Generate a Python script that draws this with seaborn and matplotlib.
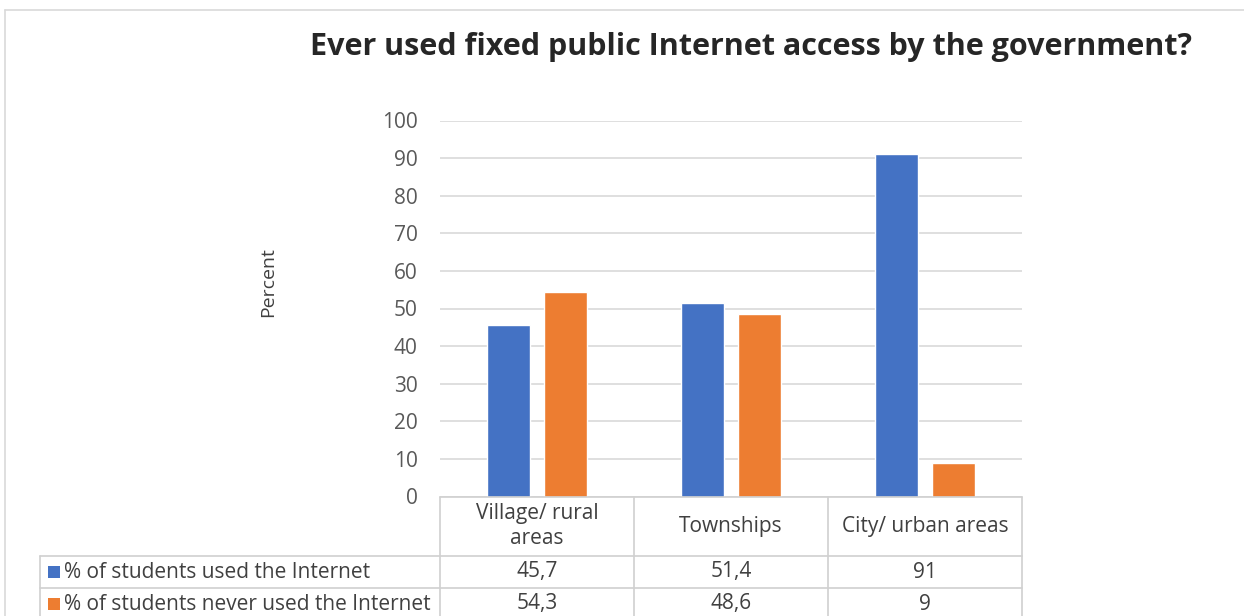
import matplotlib
matplotlib.use("Agg")
import matplotlib.pyplot as plt
from matplotlib.lines import Line2D
from matplotlib.patches import Rectangle
import seaborn as sns
import pandas as pd

# Data
categories = ["Village/ rural\nareas", "Townships", "City/ urban areas"]
series_names = ["% of students used the Internet", "% of students never used the Internet"]
used = [45.7, 51.4, 91]
never_used = [54.3, 48.6, 9]
colors = ["#4472C4", "#ED7D31"]
title = "Ever used fixed public Internet access by the government?"
y_ticks = [0, 10, 20, 30, 40, 50, 60, 70, 80, 90, 100]

df = pd.DataFrame({
    "category": categories * 2,
    "series": [series_names[0]] * 3 + [series_names[1]] * 3,
    "value": used + never_used,
})

sns.set_theme(style="white")
plt.rcParams["font.family"] = ["Open Sans", "DejaVu Sans"]

W, H = 1244, 616
fig = plt.figure(figsize=(W / 100, H / 100), dpi=100)
fig.patch.set_facecolor("white")

def fx(px):
    return px / W

def fy(py):
    return 1 - py / H

# Plot area in pixel terms
x0, x1 = 440, 1022
y_top, y_bot = 120.5, 496.5
ax = fig.add_axes([fx(x0), fy(y_bot), fx(x1) - fx(x0), fy(y_top) - fy(y_bot)])

sns.barplot(data=df, x="category", y="value", hue="series", order=categories,
            hue_order=series_names, palette=colors, width=0.58, gap=0.24,
            saturation=1, ax=ax, legend=False, errorbar=None)

ax.set_ylim(0, 100)
ax.set_xlim(-0.5, 2.5)
ax.set_yticks(y_ticks)
ax.set_yticklabels([str(t) for t in y_ticks], color="#595959", fontsize=15)
ax.tick_params(axis="y", length=0, pad=16)
ax.set_xticks([])
ax.set_xlabel("")
ax.set_ylabel("")
for s in ax.spines.values():
    s.set_visible(False)
ax.grid(axis="y", color="#d9d9d9", linewidth=1.2)
ax.set_axisbelow(True)

fig.text(fx(268), fy(282), "Percent", rotation=90, ha="center", va="center",
         color="#404040", fontsize=14)

fig.text(fx(751), fy(47), title, ha="center", va="center", color="#262626",
         fontsize=22, fontweight="bold")

# Outer chart border
line_c = "#d9d9d9"
fig.add_artist(Line2D([fx(5), fx(W)], [fy(10), fy(10)], color=line_c, lw=1.2))
fig.add_artist(Line2D([fx(5), fx(5)], [fy(10), fy(H)], color=line_c, lw=1.2))

# Data table below the axis
tab_c = "#d0d0d0"
col_edges = [440, 634, 828, 1022]
row_lines = [497, 556, 588]
fig.add_artist(Line2D([fx(440), fx(1022)], [fy(497), fy(497)], color=tab_c, lw=1.2))
for r in row_lines[1:]:
    fig.add_artist(Line2D([fx(40), fx(1022)], [fy(r), fy(r)], color=tab_c, lw=1.2))
for c in col_edges:
    fig.add_artist(Line2D([fx(c), fx(c)], [fy(497), fy(H)], color=tab_c, lw=1.2))
fig.add_artist(Line2D([fx(40), fx(40)], [fy(556), fy(H)], color=tab_c, lw=1.2))

text_c = "#404040"
fs = 15
row_y = [(556 + 588) / 2, (588 + 620) / 2]
trans = matplotlib.transforms.blended_transform_factory(ax.transData, fig.transFigure)
for i, cat in enumerate(categories):
    ax.text(i, fy((497 + 556) / 2), cat, transform=trans, ha="center", va="center",
            color=text_c, fontsize=fs, linespacing=1.25, clip_on=False)

def fmt(v):
    return f"{v:g}".replace(".", ",")

for r, vals in enumerate([used, never_used]):
    for i, v in enumerate(vals):
        ax.text(i, fy(row_y[r]), fmt(v), transform=trans, ha="center", va="center",
                color=text_c, fontsize=fs, clip_on=False)
    fig.add_artist(Rectangle((fx(48), fy(row_y[r] + 6)), fx(12), 12 / H,
                             facecolor=colors[r], edgecolor="none"))
    fig.text(fx(64), fy(row_y[r]), series_names[r], ha="left", va="center",
             color=text_c, fontsize=fs)

fig.savefig("out.png", dpi=100, facecolor="white")
